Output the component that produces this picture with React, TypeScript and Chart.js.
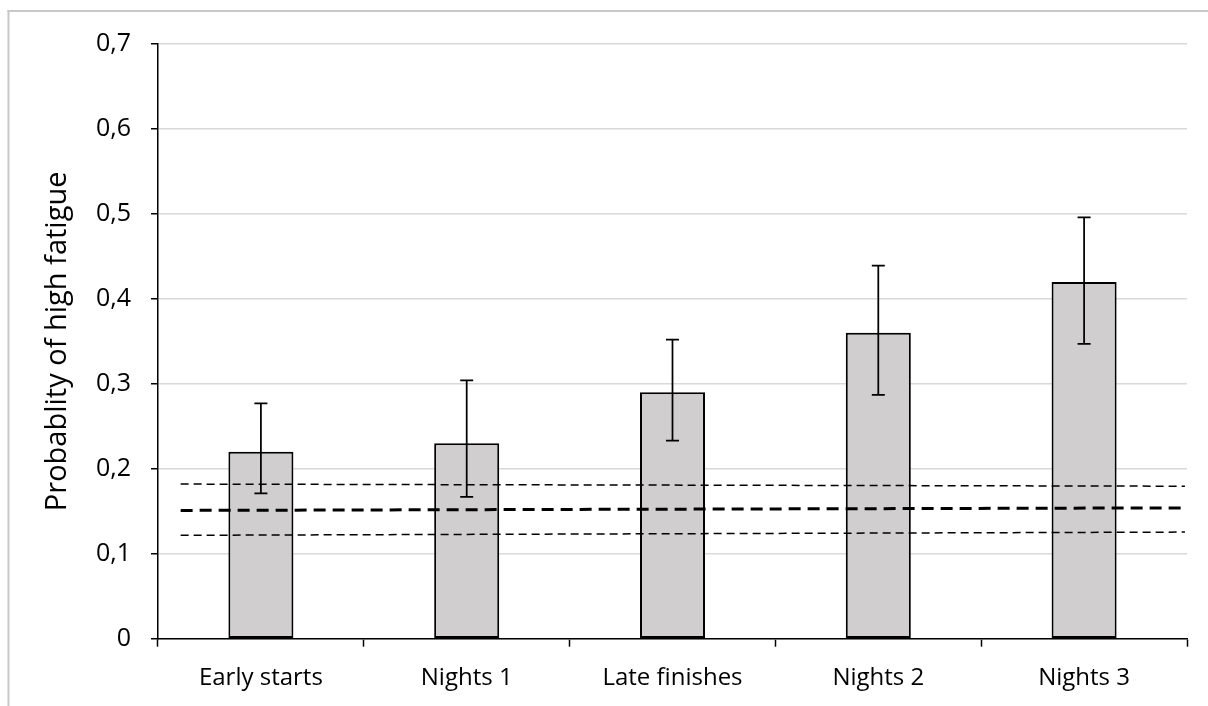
import React, { useEffect, useRef } from "react";
import { Chart, registerables } from "chart.js";

Chart.register(...registerables);

const categories = ["Early starts", "Nights 1", "Late finishes", "Nights 2", "Nights 3"];
const probability = [0.22, 0.23, 0.29, 0.36, 0.42];
const errLow = [0.171, 0.167, 0.233, 0.287, 0.347];
const errHigh = [0.277, 0.304, 0.352, 0.439, 0.496];
const yTickLabels = ["0", "0,1", "0,2", "0,3", "0,4", "0,5", "0,6", "0,7"];

// reference lines: [start, end] positions on a continuous category index axis
const refLineX = [-0.39, 4.49];
const meanLine = [0.151, 0.154];
const upperLine = [0.182, 0.1795];
const lowerLine = [0.1217, 0.1255];

const errorBarPlugin = {
  id: "errorBars",
  afterDatasetsDraw(chart: any) {
    const meta = chart.getDatasetMeta(2);
    const yScale = chart.scales.y;
    const ctx = chart.ctx;
    ctx.save();
    ctx.strokeStyle = "#000";
    ctx.lineWidth = 1.75;
    meta.data.forEach((bar: any, i: number) => {
      const x = bar.x;
      const yl = yScale.getPixelForValue(errLow[i]);
      const yh = yScale.getPixelForValue(errHigh[i]);
      const half = 6.5;
      ctx.beginPath();
      ctx.moveTo(x, yl);
      ctx.lineTo(x, yh);
      ctx.moveTo(x - half, yl);
      ctx.lineTo(x + half, yl);
      ctx.moveTo(x - half, yh);
      ctx.lineTo(x + half, yh);
      ctx.stroke();
    });
    ctx.restore();
  },
};

const framePlugin = {
  id: "frame",
  beforeDraw(chart: any) {
    const ctx = chart.ctx;
    ctx.save();
    ctx.fillStyle = "#ffffff";
    ctx.fillRect(0, 0, chart.width, chart.height);
    ctx.fillStyle = "#c8c8c8";
    ctx.fillRect(7.5, 10, 2, chart.height - 10);
    ctx.fillRect(7.5, 10, chart.width - 7.5, 2);
    ctx.restore();
  },
};

const linePoints = (vals: number[]) => [
  { x: refLineX[0], y: vals[0] },
  { x: refLineX[1], y: vals[1] },
];

export default function App() {
  const ref = useRef<HTMLCanvasElement | null>(null);

  useEffect(() => {
    if (!ref.current) return;
    Chart.defaults.font.family = "'Open Sans', sans-serif";
    const chart = new Chart(ref.current, {
      type: "bar",
      data: {
        labels: categories,
        datasets: [
          {
            type: "line",
            data: linePoints(meanLine) as any,
            xAxisID: "x2",
            borderColor: "#000",
            borderWidth: 3,
            borderDash: [12, 7],
            pointRadius: 0,
            fill: false,
            order: 0,
          },
          {
            type: "line",
            data: linePoints(upperLine) as any,
            xAxisID: "x2",
            borderColor: "#000",
            borderWidth: 1.5,
            borderDash: [8, 5],
            pointRadius: 0,
            fill: false,
            order: 0,
          },
          {
            type: "bar",
            data: probability,
            xAxisID: "x",
            backgroundColor: "#d0cece",
            borderColor: "#000",
            borderWidth: 2,
            borderSkipped: false,
            grouped: false,
            categoryPercentage: 1,
            barPercentage: 0.316,
            order: 2,
          } as any,
          {
            type: "line",
            data: linePoints(lowerLine) as any,
            xAxisID: "x2",
            borderColor: "#000",
            borderWidth: 1.5,
            borderDash: [8, 5],
            pointRadius: 0,
            fill: false,
            order: 0,
          },
        ],
      },
      options: {
        animation: false,
        responsive: false,
        layout: { padding: { left: 0, right: 21, top: 44, bottom: 0 } },
        plugins: {
          legend: { display: false },
          tooltip: { enabled: false },
        },
        scales: {
          x: {
            type: "category",
            offset: true,
            afterFit: (scale: any) => {
              scale.height = 67.3;
            },
            grid: {
              display: true,
              drawOnChartArea: false,
              offset: true,
              tickLength: 8,
              tickColor: "#000",
              tickWidth: 1.5,
            },
            border: { display: true, color: "#000", width: 1.5 },
            ticks: {
              color: "#000",
              font: { size: 24 },
              padding: 17,
              maxRotation: 0,
              autoSkip: false,
            },
          },
          x2: {
            type: "linear",
            display: false,
            offset: false,
            grid: { offset: false },
            min: -0.5,
            max: 4.5,
          },
          y: {
            min: 0,
            max: 0.7,
            afterFit: (scale: any) => {
              scale.width = 158;
            },
            ticks: {
              stepSize: 0.1,
              color: "#000",
              font: { size: 25 },
              padding: 20,
              callback: (_v: any, i: number) => yTickLabels[i],
            },
            grid: {
              color: "#d9d9d9",
              lineWidth: 1.5,
              tickColor: "#000",
              tickWidth: 1.5,
              tickLength: 7,
            },
            border: { display: true, color: "#000", width: 1.5 },
            title: {
              display: true,
              text: "Probablity of high fatigue",
              color: "#000",
              font: { size: 29 },
              padding: { top: 40, bottom: 0 },
            },
          },
        },
      },
      plugins: [framePlugin, errorBarPlugin],
    } as any);
    return () => chart.destroy();
  }, []);

  return (
    <div style={{ position: "absolute", left: 0, top: 0, width: 1208, height: 706 }}>
      <canvas ref={ref} width={1208} height={706} style={{ display: "block" }} />
    </div>
  );
}
